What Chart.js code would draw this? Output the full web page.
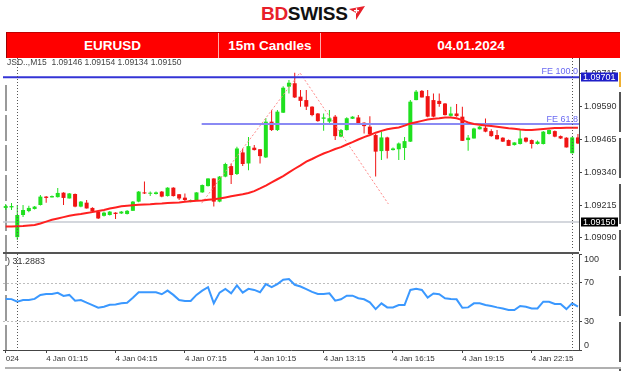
<!DOCTYPE html>
<html><head><meta charset="utf-8">
<script src="https://cdn.jsdelivr.net/npm/chart.js@4.4.1/dist/chart.umd.min.js"></script>
<style>
html,body{margin:0;padding:0;background:#fff;width:624px;height:371px;overflow:hidden;font-family:"Liberation Sans",Arial,sans-serif;}
#wrap{position:relative;width:624px;height:371px;}
.abs{position:absolute;}
#logo{left:261px;top:3px;font-weight:bold;font-size:19px;line-height:22px;white-space:nowrap;letter-spacing:-0.3px;z-index:3;}
#logo .bd{color:#e8202a;} #logo .sw{color:#111;}
#banner{left:6px;top:32px;width:614px;height:26px;background:#ff0000;border-top:1px solid #c00000;border-left:1px solid #a00000;box-sizing:border-box;z-index:3;}
.cell{position:absolute;top:0;height:25px;line-height:25px;color:#fff;font-weight:bold;font-size:13.5px;text-align:center;}
.sep{position:absolute;top:0;width:1px;height:25px;background:rgba(255,190,190,0.9);}
#info{left:7px;top:57px;font-size:8.5px;line-height:10px;color:#444;white-space:nowrap;z-index:4;}
#rsiInfo{left:7px;top:256px;font-size:9px;line-height:11px;color:#333;white-space:nowrap;z-index:4;}
#cMain{left:0;top:50px;z-index:1;}
#cRsi{left:0;top:246px;z-index:2;}
</style></head>
<body><div id="wrap">
<div id="logo" class="abs"><span class="bd">BD</span><span class="sw">SWISS</span><svg width="16" height="14" viewBox="0 0 16 14" style="vertical-align:0px;margin-left:1px"><polygon points="0,3 16,0 7,14 7,7" fill="#e8202a"/><rect x="5" y="4" width="5" height="1.3" fill="#fff"/><rect x="6.85" y="2.2" width="1.3" height="5" fill="#fff"/></svg></div>
<div id="banner" class="abs">
  <div class="cell" style="left:0;width:211px;">EURUSD</div>
  <div class="sep" style="left:211px"></div>
  <div class="cell" style="left:212px;width:102px;">15m Candles</div>
  <div class="sep" style="left:313px"></div>
  <div class="cell" style="left:314px;width:300px;">04.01.2024</div>
</div>
<canvas id="cMain" class="abs" width="624" height="208"></canvas>
<canvas id="cRsi" class="abs" width="624" height="125"></canvas>
<div id="info" class="abs">JSD..,M15&nbsp; 1.09146 1.09154 1.09134 1.09150</div>
<div id="rsiInfo" class="abs">) 31.2883</div>
<div class="abs" style="left:5px;top:85px;width:2px;height:267px;background:repeating-linear-gradient(to bottom,#9a9a9a 0 26px,transparent 26px 30px);"></div>
<div class="abs" style="left:619px;top:92px;width:2px;height:279px;background:repeating-linear-gradient(to bottom,#555 0 40px,transparent 40px 46px);"></div>
<div class="abs" style="left:619px;top:72px;width:2px;height:15px;background:#f0b030;"></div>
<div class="abs" style="left:5px;top:367px;width:616px;height:2px;background:#b0b0b0;"></div>
</div>
<script>
// ---------- DATA ----------
const opens = [1.09204,1.09206,1.09093,1.09177,1.09192,1.09200,1.09215,1.09247,1.09244,1.09245,
1.09262,1.09240,1.09257,1.09209,1.09224,1.09204,1.09190,1.09174,1.09177,1.09186,
1.09183,1.09181,1.09193,1.09228,1.09263,1.09258,1.09257,1.09266,1.09249,1.09281,
1.09256,1.09243,1.09228,1.09231,1.09263,1.09287,1.09316,1.09228,1.09323,1.09363,
1.09333,1.09415,1.09373,1.09433,1.09427,1.09396,1.09532,1.09500,1.09566,1.09665,
1.09678,1.09627,1.09614,1.09589,1.09563,1.09543,1.09532,1.09551,1.09475,1.09500,
1.09543,1.09548,1.09528,1.09513,1.09481,1.09420,1.09472,1.09424,1.09427,1.09432,
1.09456,1.09614,1.09649,1.09629,1.09614,1.09611,1.09601,1.09554,1.09563,1.09551,
1.09462,1.09468,1.09503,1.09509,1.09496,1.09481,1.09471,1.09462,1.09443,1.09447,
1.09471,1.09462,1.09447,1.09447,1.09485,1.09496,1.09477,1.09471,1.09412,1.09472];
const highs = [1.09219,1.09223,1.09215,1.09215,1.09212,1.09211,1.09253,1.09249,1.09251,1.09280,
1.09264,1.09261,1.09259,1.09230,1.09234,1.09207,1.09192,1.09190,1.09192,1.09188,
1.09192,1.09196,1.09230,1.09268,1.09304,1.09266,1.09266,1.09268,1.09283,1.09283,
1.09257,1.09259,1.09236,1.09264,1.09293,1.09317,1.09317,1.09325,1.09376,1.09373,
1.09437,1.09430,1.09474,1.09443,1.09428,1.09546,1.09576,1.09576,1.09667,1.09690,
1.09718,1.09652,1.09652,1.09591,1.09565,1.09563,1.09576,1.09557,1.09504,1.09549,
1.09553,1.09557,1.09530,1.09553,1.09485,1.09494,1.09475,1.09434,1.09453,1.09474,
1.09614,1.09652,1.09652,1.09652,1.09639,1.09639,1.09603,1.09589,1.09599,1.09589,
1.09481,1.09509,1.09515,1.09544,1.09503,1.09500,1.09473,1.09464,1.09454,1.09500,
1.09473,1.09464,1.09460,1.09496,1.09502,1.09498,1.09479,1.09473,1.09475,1.09485];
const lows = [1.09196,1.09196,1.09082,1.09169,1.09188,1.09198,1.09213,1.09224,1.09244,1.09244,
1.09215,1.09240,1.09207,1.09207,1.09202,1.09188,1.09162,1.09171,1.09175,1.09162,
1.09181,1.09179,1.09192,1.09226,1.09257,1.09249,1.09255,1.09245,1.09247,1.09247,
1.09234,1.09228,1.09226,1.09230,1.09262,1.09285,1.09209,1.09226,1.09321,1.09295,
1.09329,1.09363,1.09347,1.09422,1.09373,1.09394,1.09496,1.09496,1.09565,1.09639,
1.09622,1.09589,1.09576,1.09553,1.09532,1.09497,1.09525,1.09462,1.09473,1.09498,
1.09542,1.09523,1.09487,1.09483,1.09323,1.09386,1.09392,1.09422,1.09386,1.09386,
1.09455,1.09613,1.09624,1.09549,1.09549,1.09589,1.09555,1.09551,1.09551,1.09458,
1.09421,1.09468,1.09502,1.09492,1.09475,1.09464,1.09455,1.09439,1.09441,1.09445,
1.09453,1.09430,1.09445,1.09445,1.09483,1.09473,1.09466,1.09434,1.09411,1.09447];
const closes = [1.09211,1.09211,1.09177,1.09196,1.09204,1.09209,1.09247,1.09242,1.09249,1.09261,
1.09242,1.09259,1.09209,1.09228,1.09202,1.09190,1.09164,1.09186,1.09190,1.09181,
1.09190,1.09193,1.09228,1.09266,1.09259,1.09259,1.09263,1.09247,1.09281,1.09249,
1.09240,1.09234,1.09234,1.09263,1.09291,1.09316,1.09228,1.09323,1.09371,1.09329,
1.09430,1.09371,1.09439,1.09424,1.09401,1.09532,1.09500,1.09570,1.09661,1.09680,
1.09624,1.09611,1.09589,1.09557,1.09534,1.09548,1.09545,1.09477,1.09500,1.09545,
1.09551,1.09525,1.09515,1.09485,1.09418,1.09472,1.09421,1.09430,1.09449,1.09458,
1.09608,1.09646,1.09624,1.09551,1.09551,1.09599,1.09557,1.09563,1.09553,1.09459,
1.09471,1.09506,1.09513,1.09494,1.09477,1.09465,1.09456,1.09440,1.09453,1.09468,
1.09456,1.09447,1.09456,1.09494,1.09500,1.09475,1.09468,1.09434,1.09472,1.09449];
const maValues = [1.09133,1.09133,1.09134,1.09135,1.09137,1.09139,1.09145,1.09152,1.09159,1.09164,
1.09169,1.09174,1.09178,1.09181,1.09185,1.09188,1.09192,1.09196,1.09202,1.09206,
1.09210,1.09212,1.09214,1.09216,1.09217,1.09218,1.09220,1.09221,1.09223,1.09224,
1.09225,1.09227,1.09229,1.09231,1.09232,1.09235,1.09237,1.09240,1.09244,1.09248,
1.09252,1.09256,1.09261,1.09268,1.09278,1.09289,1.09301,1.09313,1.09325,1.09339,
1.09353,1.09366,1.09380,1.09390,1.09401,1.09411,1.09419,1.09428,1.09435,1.09445,
1.09454,1.09464,1.09473,1.09481,1.09490,1.09497,1.09503,1.09507,1.09510,1.09517,
1.09525,1.09530,1.09535,1.09540,1.09543,1.09545,1.09548,1.09548,1.09545,1.09538,
1.09529,1.09523,1.09520,1.09517,1.09515,1.09513,1.09510,1.09507,1.09505,1.09502,
1.09500,1.09500,1.09502,1.09504,1.09506,1.09508,1.09508,1.09509,1.09509,1.09509];
const rsiValues = [53.2,53,50.3,52,52,53.2,57.4,58.4,58.4,59.5,
56.3,57.4,51.4,52,49.3,46.8,44,45,47.2,47.5,
48.6,49.3,54.5,60.2,60.2,60.2,60.2,58.1,61.9,57.4,
52,51,51,57.4,61.9,65.4,48.6,59.8,63.7,59.1,
67.2,59.8,63.7,62.6,60.2,68.6,65.4,68.6,73.2,73.9,
67.9,66.1,63.4,60.5,58.4,58.4,59.1,51.4,52.8,56.6,
56.6,53.9,52.8,49.7,42.6,48.6,44.4,44.4,46.8,46.8,
62.6,63.7,62.6,54.5,58.8,58.1,53.9,53.2,52.8,44,
44.4,48.6,48.6,46.8,45.8,44.4,43.3,41.6,41.6,45.8,
45.1,43.3,43.3,50.3,50.3,47.9,47.9,42.6,48.6,45.1];
const priceTicks = [1.09090, 1.09215, 1.09340, 1.09465, 1.09590, 1.09715];
const rsiTicks = [0, 30, 70, 100];
const rsiLevels = [30, 70];
const timeLabels = ['024','4 Jan 01:15','4 Jan 04:15','4 Jan 07:15','4 Jan 10:15','4 Jan 13:15','4 Jan 16:15','4 Jan 19:15','4 Jan 22:15'];
const timeLabelBars = [0, 7, 19, 31, 43, 55, 67, 79, 91];
const daySeparatorBars = [2, 98];
const fe100 = 1.09701;
const fe618 = 1.09523;
const bidPrice = 1.09150;
const fibBars = [33.9, 50.9, 66.2];
const fibPrices = [1.09222, 1.09718, 1.09219];
const feLabels = ['FE 100.0', 'FE 61.8'];
const rsiTitle = ') 31.2883';

// ---------- STYLE / LAYOUT ----------
const X_MIN = -0.47, X_MAX = 99.18;
const BULL = '#1fe01f', BEAR = '#f01414';
const FONT = '"Liberation Sans", Arial, sans-serif';
const bars = opens.map((_, i) => i);
const candleColors = bars.map(i => closes[i] >= opens[i] ? BULL : BEAR);

const mainDecor = {
  id: 'mainDecor',
  afterDatasetsDraw(chart) {
    const {ctx, chartArea: a, scales: {x, y}} = chart;
    ctx.save();
    ctx.strokeStyle = '#555'; ctx.lineWidth = 1; ctx.setLineDash([1, 2]);
    daySeparatorBars.forEach(b => {
      const px = Math.round(x.getPixelForValue(b)) + 0.5;
      ctx.beginPath(); ctx.moveTo(px, a.top); ctx.lineTo(px, a.bottom); ctx.stroke();
    });
    ctx.setLineDash([]);
    ctx.font = '9px ' + FONT;
    ctx.textAlign = 'right'; ctx.textBaseline = 'bottom';
    ctx.fillStyle = '#6a6af2';
    ctx.fillText(feLabels[0], a.right - 1, y.getPixelForValue(fe100) - 1.5);
    ctx.fillText(feLabels[1], a.right - 1, y.getPixelForValue(fe618) - 0.5);
    ctx.restore();
  },
  afterDraw(chart) {
    const {ctx, chartArea: a, scales: {y}} = chart;
    ctx.save();
    ctx.font = '9px ' + FONT;
    ctx.textAlign = 'left'; ctx.textBaseline = 'middle';
    [[fe100, '#1e1ec8'], [bidPrice, '#000']].forEach(([v, bg]) => {
      const py = y.getPixelForValue(v);
      ctx.fillStyle = bg; ctx.fillRect(a.right + 2, Math.round(py) - 4.5, 37, 9);
      ctx.fillStyle = '#fff'; ctx.fillText(v.toFixed(5), a.right + 4, py);
    });
    ctx.restore();
  }
};

const rsiDecor = {
  id: 'rsiDecor',
  beforeDatasetsDraw(chart) {
    const {ctx, chartArea: a, scales: {y}} = chart;
    ctx.save();
    ctx.strokeStyle = '#bdbdbd'; ctx.lineWidth = 1; ctx.setLineDash([2, 2]);
    rsiLevels.forEach(v => {
      const py = Math.round(y.getPixelForValue(v)) + 0.5;
      ctx.beginPath(); ctx.moveTo(a.left, py); ctx.lineTo(a.right, py); ctx.stroke();
    });
    ctx.restore();
  },
  afterDatasetsDraw(chart) {
    const {ctx, chartArea: a, scales: {x, y}} = chart;
    ctx.save();
    ctx.strokeStyle = '#555'; ctx.lineWidth = 1; ctx.setLineDash([1, 2]);
    daySeparatorBars.forEach(b => {
      const px = Math.round(x.getPixelForValue(b)) + 0.5;
      ctx.beginPath(); ctx.moveTo(px, a.top); ctx.lineTo(px, a.bottom + 3); ctx.stroke();
    });
    ctx.setLineDash([]);
    ctx.strokeStyle = '#555'; ctx.lineWidth = 2;
    ctx.beginPath(); ctx.moveTo(a.left, a.top - 1); ctx.lineTo(a.right, a.top - 1); ctx.stroke();
    // RSI scale labels, kept inside the panel like the terminal does
    ctx.font = '9px ' + FONT; ctx.fillStyle = '#333';
    ctx.textAlign = 'left'; ctx.textBaseline = 'middle';
    rsiTicks.forEach(v => {
      const py = Math.min(Math.max(y.getPixelForValue(v), a.top + 6), a.bottom - 4);
      ctx.fillText(String(v), a.right + 5, py);
    });
    ctx.restore();
  }
};

const hLine = (x0, v) => [{x: x0, y: v}, {x: X_MAX, y: v}];

new Chart(document.getElementById('cMain'), {
  type: 'bar',
  data: {
    datasets: [
      { type: 'line', data: bars.map(i => ({x: i, y: maValues[i]})), borderColor: '#ff2020', borderWidth: 2, pointRadius: 0, order: 0 },
      { type: 'line', data: hLine(X_MIN, fe100), borderColor: '#3434d6', borderWidth: 2, pointRadius: 0, order: 1 },
      { type: 'line', data: hLine(fibBars[0], fe618), borderColor: '#8a8af4', borderWidth: 2, pointRadius: 0, order: 1 },
      { type: 'line', data: hLine(X_MIN, bidPrice), borderColor: '#c6cad2', borderWidth: 1.5, pointRadius: 0, order: 4 },
      { type: 'line', data: fibBars.map((b, k) => ({x: b, y: fibPrices[k]})), borderColor: '#ff8a8a', borderWidth: 1, borderDash: [2, 2], pointRadius: 0, order: 1 },
      { data: bars.map(i => ({x: i, y: [lows[i], highs[i]]})), backgroundColor: candleColors, grouped: false, barThickness: 1, maxBarThickness: 1, inflateAmount: 0, order: 3 },
      { data: bars.map(i => ({x: i, y: [opens[i], closes[i]]})), backgroundColor: candleColors, grouped: false, barThickness: 4, maxBarThickness: 4, minBarLength: 1, inflateAmount: 0, order: 2 }
    ]
  },
  options: {
    responsive: false, animation: false, devicePixelRatio: 1,
    layout: { padding: { top: 8, bottom: 8, left: 3, right: 0 } },
    plugins: { legend: { display: false }, tooltip: { enabled: false } },
    scales: {
      x: { type: 'linear', min: X_MIN, max: X_MAX, offset: false, display: false, grid: { offset: false } },
      y: {
        position: 'right', min: 1.09044, max: 1.09774,
        afterBuildTicks: s => { s.ticks = priceTicks.map(v => ({value: v})); },
        afterFit: s => { s.width = 45; },
        ticks: { callback: v => Number(v).toFixed(5), font: { size: 9, family: FONT }, color: '#333', padding: 2 },
        grid: { drawOnChartArea: false, tickLength: 3, color: '#444' },
        border: { color: '#444', width: 1 }
      }
    }
  },
  plugins: [mainDecor]
});

new Chart(document.getElementById('cRsi'), {
  type: 'line',
  data: {
    datasets: [
      { data: bars.map(i => ({x: i, y: rsiValues[i]})), borderColor: '#3a98ff', borderWidth: 2, pointRadius: 0 }
    ]
  },
  options: {
    responsive: false, animation: false, devicePixelRatio: 1,
    layout: { padding: { top: 8, bottom: 0, left: 3, right: 0 } },
    plugins: { legend: { display: false }, tooltip: { enabled: false } },
    scales: {
      x: {
        type: 'linear', min: X_MIN, max: X_MAX, offset: false, position: 'bottom',
        afterBuildTicks: s => { s.ticks = timeLabelBars.map(v => ({value: v})); },
        afterFit: s => { s.height = 21; },
        ticks: { callback: v => timeLabels[timeLabelBars.indexOf(v)], align: 'start', maxRotation: 0, autoSkip: false, font: { size: 8, family: FONT }, color: '#333', padding: 1 },
        grid: { drawOnChartArea: false, tickLength: 3, color: '#444' },
        border: { color: '#444', width: 1 }
      },
      y: {
        position: 'right', min: 0, max: 100,
        afterBuildTicks: s => { s.ticks = rsiTicks.map(v => ({value: v})); },
        afterFit: s => { s.width = 45; },
        ticks: { display: false },
        grid: { drawOnChartArea: false, tickLength: 3, color: '#444' },
        border: { color: '#444', width: 1 }
      }
    }
  },
  plugins: [rsiDecor]
});
document.getElementById('rsiInfo').textContent = rsiTitle;
</script>
</body></html>
